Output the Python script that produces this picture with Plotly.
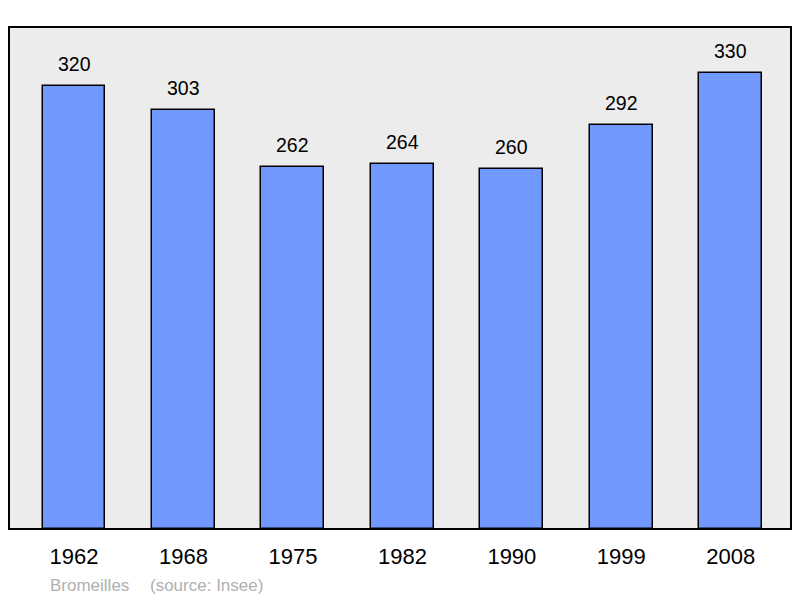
import plotly.graph_objects as go

years = ["1962", "1968", "1975", "1982", "1990", "1999", "2008"]
population = [320, 303, 262, 264, 260, 292, 330]
commune = "Bromeilles"
source = "(source: Insee)"

W, H = 800, 598
ML, MR, MT, MB = 9, 9, 27, 69
pw = W - ML - MR
ph = H - MT - MB

idx = list(range(len(years)))
FONT = "Liberation Sans, Arial, sans-serif"

fig = go.Figure()
fig.add_trace(go.Bar(
    x=idx, y=population, width=0.575,
    marker=dict(color="#7098ff", line=dict(color="#000000", width=1.5)),
    hoverinfo="skip",
))

annotations = []
for i, v in zip(idx, population):
    annotations.append(dict(
        x=i, y=v, xref="x", yref="y", text=str(v), showarrow=False,
        yanchor="bottom", xanchor="center", yshift=9,
        font=dict(family=FONT, size=19.5, color="#000000"),
    ))

annotations.append(dict(
    x=(48 - ML) / pw, y=(MT + ph - 585) / ph, xref="paper", yref="paper",
    text=commune, showarrow=False, xanchor="left", yanchor="middle",
    font=dict(family=FONT, size=17, color="#b0b0b0"),
))
annotations.append(dict(
    x=(148 - ML) / pw, y=(MT + ph - 585) / ph, xref="paper", yref="paper",
    text=source, showarrow=False, xanchor="left", yanchor="middle",
    font=dict(family=FONT, size=17, color="#b0b0b0"),
))

fig.update_layout(
    width=W, height=H,
    margin=dict(l=ML, r=MR, t=MT, b=MB),
    paper_bgcolor="#ffffff",
    plot_bgcolor="#ececec",
    showlegend=False,
    bargap=0,
    annotations=annotations,
    shapes=[dict(type="rect", xref="paper", yref="paper", x0=0, x1=1, y0=0, y1=1,
                 line=dict(color="#000000", width=2), layer="above")],
    xaxis=dict(
        range=[-0.594, 6.55], tickmode="array", tickvals=idx, ticktext=years,
        showgrid=False, zeroline=False, showline=False,
        ticks="outside", ticklen=8, tickcolor="rgba(0,0,0,0)",
        tickfont=dict(family=FONT, size=22, color="#000000"),
    ),
    yaxis=dict(
        range=[0, 363], showgrid=False, zeroline=False, showline=False,
        showticklabels=False, ticks="",
    ),
)

fig.write_html(
    "out.html",
    config={"displayModeBar": False},
    post_script="document.body.style.margin='0';document.body.style.overflow='hidden';",
)
